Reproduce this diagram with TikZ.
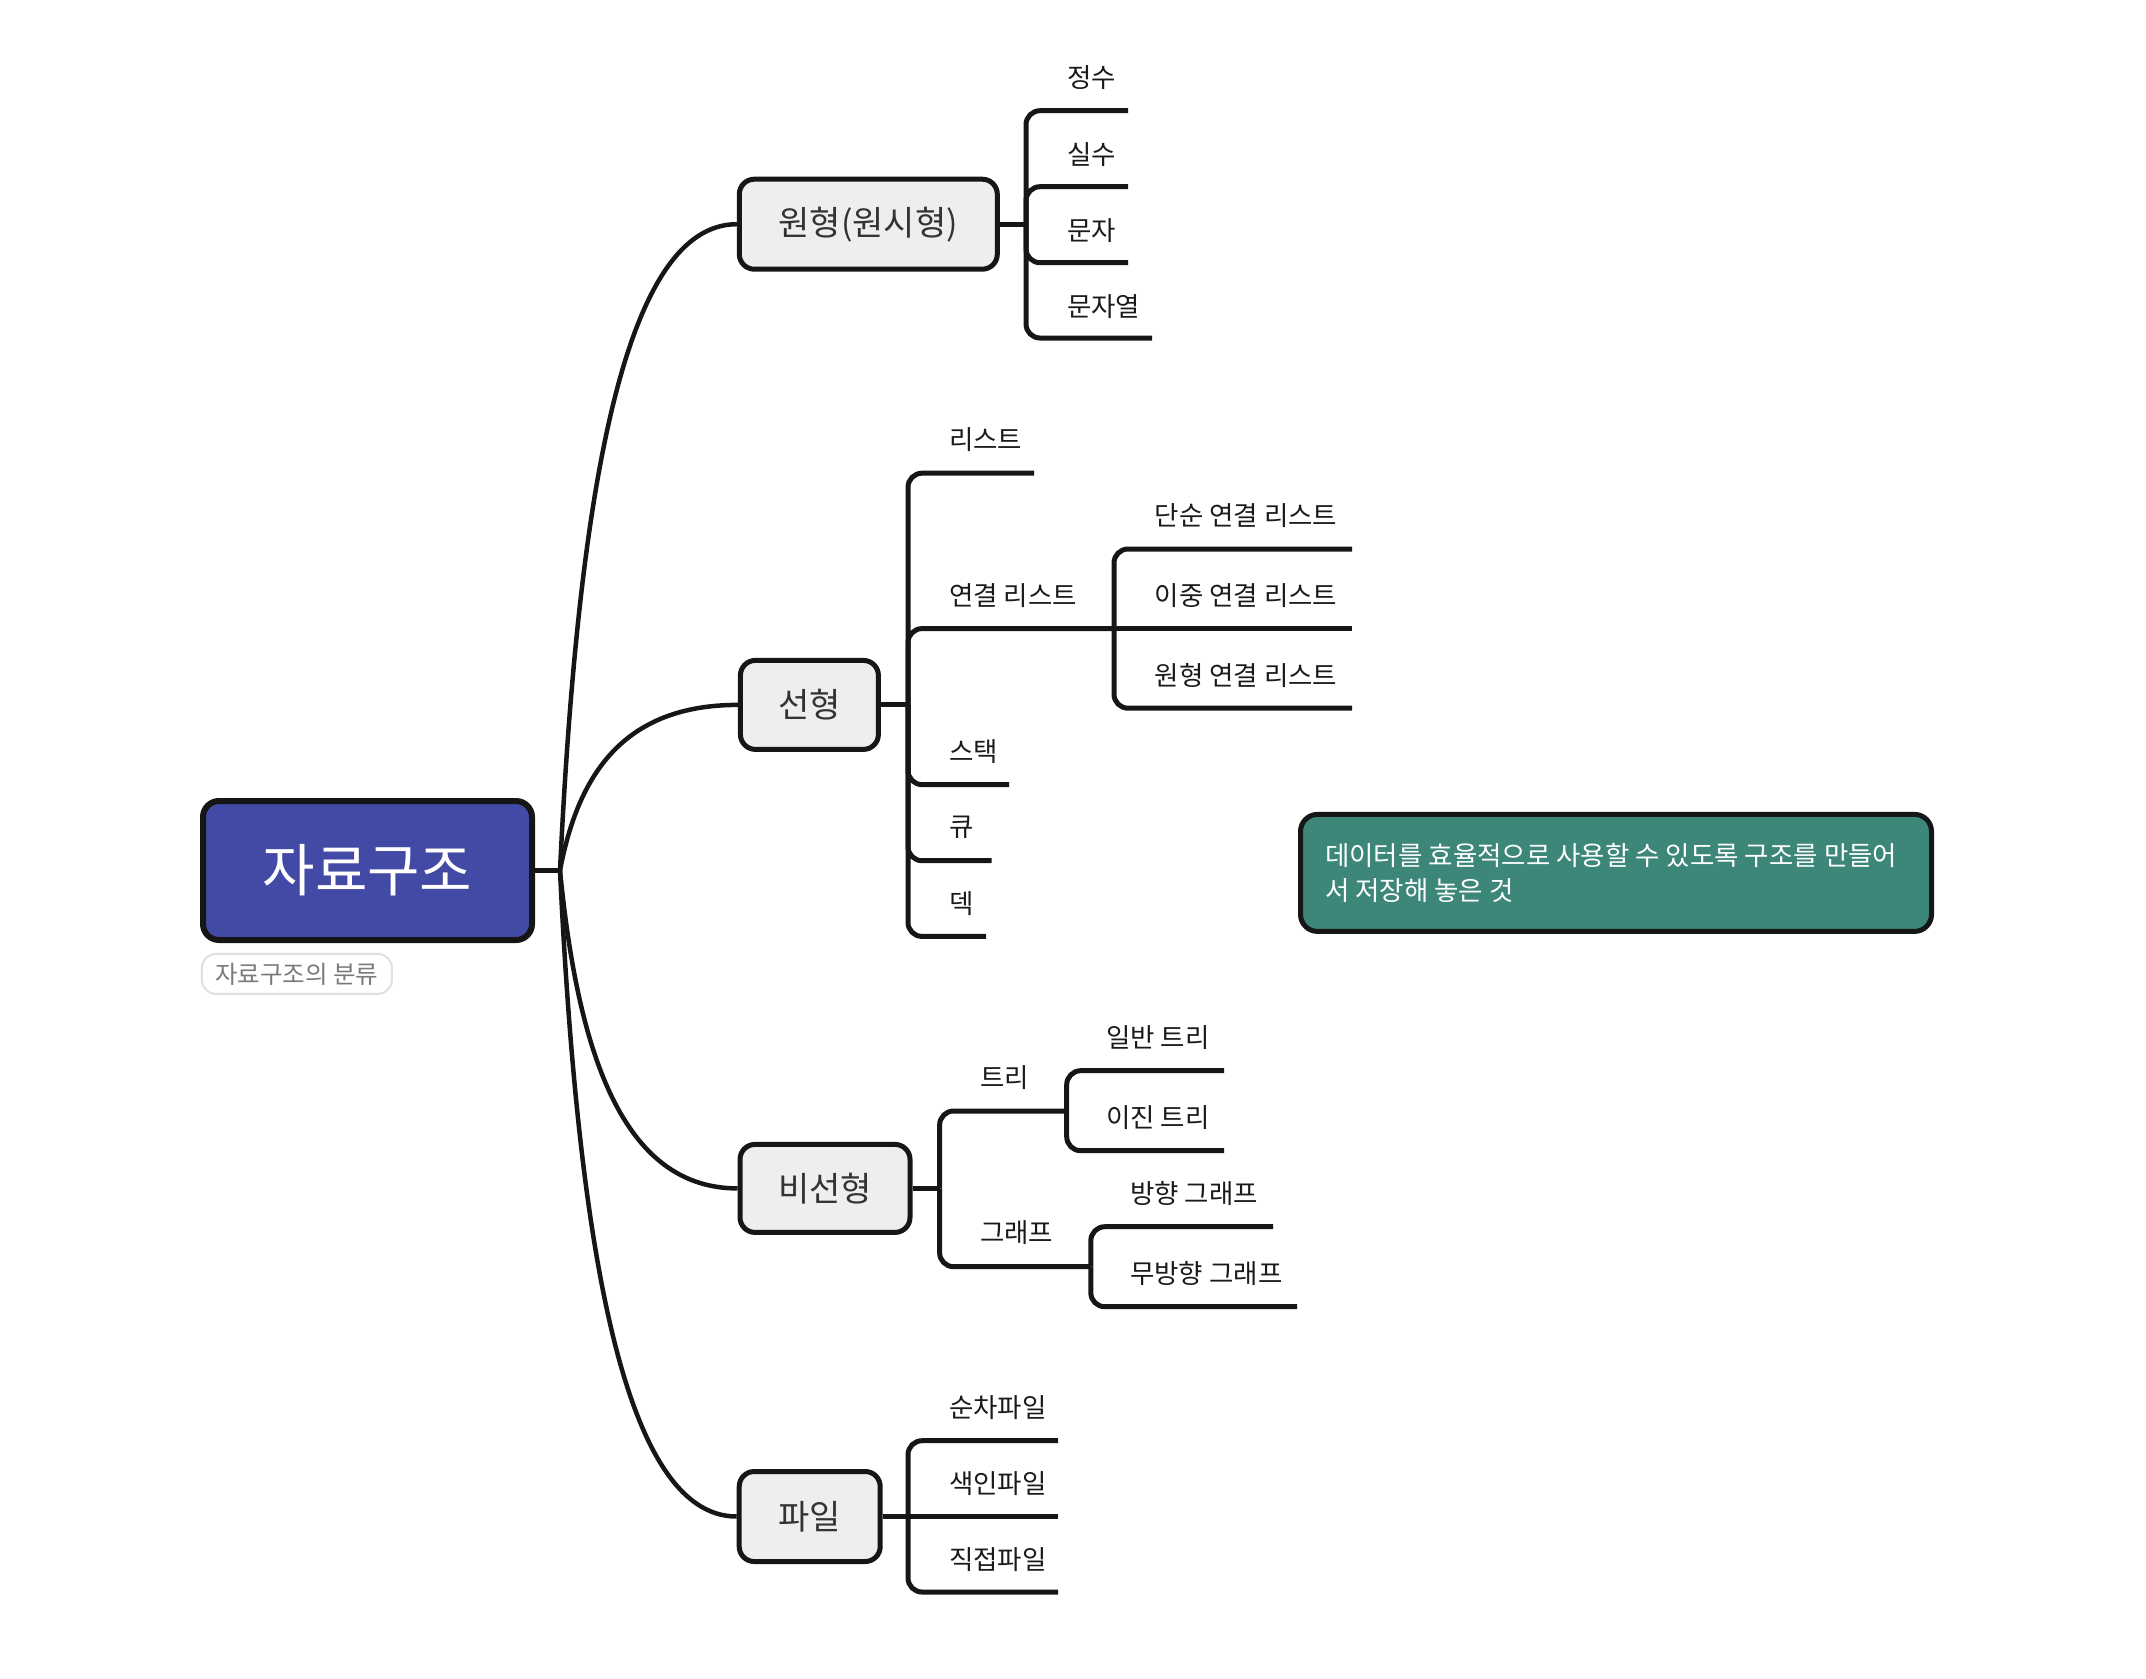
\documentclass[tikz,border=0pt]{standalone}
\usepackage{fontspec}
\setmainfont{Noto Sans CJK KR}
\usetikzlibrary{calc}
\definecolor{lc}{HTML}{161616}
\definecolor{rootfill}{HTML}{434AA6}
\definecolor{notefill}{HTML}{3D877A}
\definecolor{boxfill}{HTML}{EEEEEE}
\definecolor{boxtext}{HTML}{333333}
\definecolor{leaftext}{HTML}{1A1A1A}
\definecolor{subgray}{HTML}{7A7A7A}
\definecolor{subline}{HTML}{E0E0E0}
\begin{document}
\begin{tikzpicture}[x=1pt,y=-1pt,
  rootbox/.style={draw=lc, line width=6pt, fill=rootfill, rounded corners=16pt,
    minimum width=329pt, minimum height=139pt, text=white, inner sep=0pt,
    font=\fontsize{57}{62}\selectfont},
  subpill/.style={draw=subline, line width=2pt, rounded corners=14pt,
    minimum width=190pt, minimum height=40pt, text=subgray, inner sep=0pt,
    font=\fontsize{24.5}{28}\selectfont},
  topicbox/.style={draw=lc, line width=5pt, fill=boxfill, rounded corners=15pt,
    minimum height=90pt, text=boxtext, inner sep=0pt,
    font=\fontsize{34}{40}\selectfont},
  notebox/.style={draw=lc, line width=5pt, fill=notefill, rounded corners=17pt,
    minimum width=631pt, minimum height=117pt, inner sep=0pt},
  notetext/.style={anchor=west, inner sep=0pt, text=white, align=left,
    font=\fontsize{26.5}{35}\selectfont},
  leaf/.style={anchor=west, inner sep=0pt, text=leaftext,
    font=\fontsize{26.5}{30}\selectfont},
  brline/.style={draw=lc, line width=5pt, rounded corners=14pt},
  link/.style={draw=lc, line width=5pt},
  mainedge/.style={draw=lc, line width=4.5pt}
]
\useasboundingbox (0,0) rectangle (2146,1678);

% root
\node[rootbox] (root) at (367.5,870.5) {자료구조};
\node[subpill] (sub) at (296.9,973.9) {자료구조의 분류};
\coordinate (J) at (560,870.5);

% topics
\node[topicbox, minimum width=258pt] (b1) at (868.3,224.2) {원형(원시형)};
\node[topicbox, minimum width=138pt, minimum height=89pt] (b2) at (809.4,704.9) {선형};
\node[topicbox, minimum width=170pt, minimum height=88pt] (b3) at (825,1188.4) {비선형};
\node[topicbox, minimum width=141pt] (b4) at (809.7,1516.5) {파일};

% main connectors
\draw[mainedge] (root.east) -- (J);
\foreach \b in {b1,b2,b3,b4}{
  \draw[mainedge] let \p1=(J), \p2=(\b.west) in
    (J) .. controls (\x1+0.1*\x2-0.1*\x1, \y1+0.57*\y2-0.57*\y1)
        and (\x1+0.35*\x2-0.35*\x1, \y2) .. (\b.west);
}

% group 1: 원형(원시형)
\coordinate (s1) at (1026,224.2);
\draw[link] (b1.east) -- (s1);
\node[leaf] (l11) at (1067,78) {정수};   \coordinate (e11) at (1128,110.7);
\node[leaf] (l12) at (1067,155) {실수};  \coordinate (e12) at (1128,186.7);
\node[leaf] (l13) at (1067,231) {문자};  \coordinate (e13) at (1128,262.7);
\node[leaf] (l14) at (1067,306.5) {문자열}; \coordinate (e14) at (1152,338);
\foreach \e in {e11,e12,e13,e14} \draw[brline] (s1) |- (\e);

% group 2: 선형
\coordinate (s2) at (908,704.9);
\draw[link] (b2.east) -- (s2);
\node[leaf] (l21) at (949,440) {리스트};      \coordinate (e21) at (1034,473.2);
\node[leaf] (l22) at (949,595.6) {연결 리스트}; \coordinate (e22) at (1114,628.6);
\node[leaf] (l23) at (949,751.6) {스택};       \coordinate (e23) at (1009,784.6);
\node[leaf] (l24) at (949,827.7) {큐};         \coordinate (e24) at (991.5,860.7);
\node[leaf] (l25) at (949,903.4) {덱};         \coordinate (e25) at (986,936.4);
\foreach \e in {e21,e22,e23,e24,e25} \draw[brline] (s2) |- (\e);
\node[leaf] (l221) at (1154.5,516) {단순 연결 리스트};   \coordinate (e221) at (1352,549);
\node[leaf] (l222) at (1154.5,595.6) {이중 연결 리스트}; \coordinate (e222) at (1352,628.6);
\node[leaf] (l223) at (1154.5,675.2) {원형 연결 리스트}; \coordinate (e223) at (1352,708.2);
\draw[brline] (e22) |- (e221);
\draw[brline] (e22) -- (e222);
\draw[brline] (e22) |- (e223);

% group 3: 비선형
\coordinate (s3) at (939.6,1188.4);
\draw[link] (b3.east) -- (s3);
\node[leaf] (l31) at (980,1078) {트리};   \coordinate (e31) at (1066.7,1111);
\node[leaf] (l32) at (980,1233) {그래프}; \coordinate (e32) at (1090.8,1266.7);
\foreach \e in {e31,e32} \draw[brline] (s3) |- (\e);
\node[leaf] (l311) at (1106,1038) {일반 트리}; \coordinate (e311) at (1224,1070.7);
\node[leaf] (l312) at (1106,1118) {이진 트리}; \coordinate (e312) at (1224,1150.7);
\foreach \e in {e311,e312} \draw[brline] (e31) |- (\e);
\node[leaf] (l321) at (1130,1193.5) {방향 그래프};   \coordinate (e321) at (1273,1226.7);
\node[leaf] (l322) at (1130,1273.5) {무방향 그래프}; \coordinate (e322) at (1297,1306.7);
\foreach \e in {e321,e322} \draw[brline] (e32) |- (\e);

% group 4: 파일
\coordinate (s4) at (908,1516.5);
\draw[link] (b4.east) -- (s4);
\node[leaf] (l41) at (949,1408) {순차파일};   \coordinate (e41) at (1058,1440.7);
\node[leaf] (l42) at (949,1483.5) {색인파일}; \coordinate (e42) at (1058,1516.5);
\node[leaf] (l43) at (949,1559.5) {직접파일}; \coordinate (e43) at (1058,1592);
\draw[brline] (s4) |- (e41);
\draw[brline] (s4) -- (e42);
\draw[brline] (s4) |- (e43);

% note
\node[notebox] (note) at (1616,872.9) {};
\node[notetext] (notetx) at (1325,872.5) {데이터를 효율적으로 사용할 수 있도록 구조를 만들어\\서 저장해 놓은 것};
\end{tikzpicture}
\end{document}
